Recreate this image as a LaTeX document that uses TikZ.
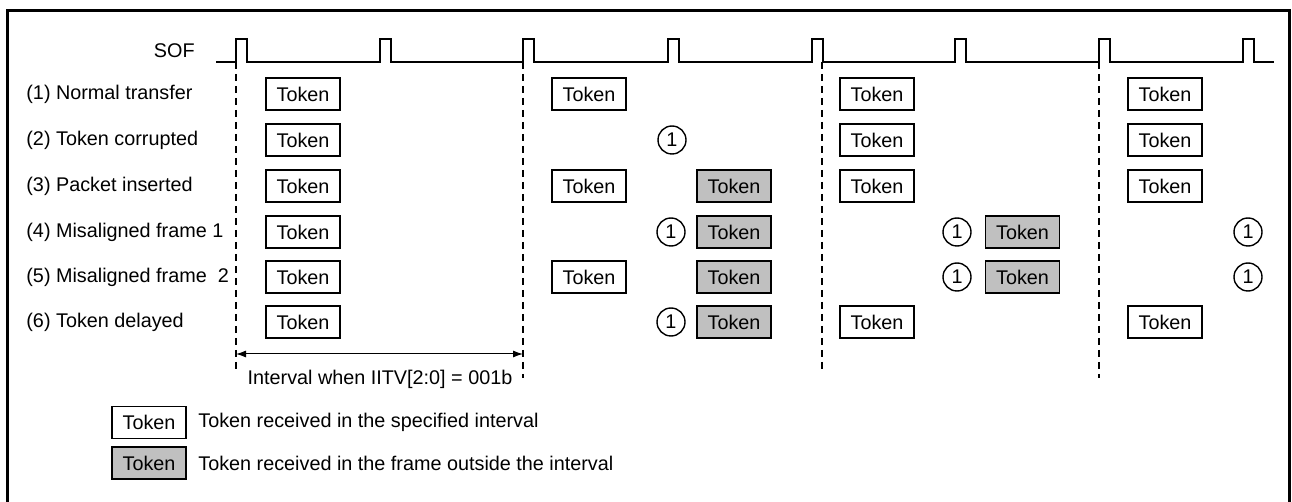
\documentclass[tikz,border=0pt]{standalone}
\usepackage{fontspec}
\setmainfont{Liberation Sans}
\usetikzlibrary{arrows.meta}
\definecolor{tokgray}{RGB}{192,192,192}
\begin{document}
\begin{tikzpicture}[x=0.5pt,y=-0.5pt,
  every node/.style={font=\fontsize{9.9pt}{12pt}\selectfont},
  tok/.style={draw, line width=0.7pt, minimum width=37pt, minimum height=16pt, inner sep=0pt},
  tokg/.style={tok, fill=tokgray},
  num/.style={draw, circle, line width=0.7pt, minimum size=14pt, inner sep=0pt},
  lbl/.style={anchor=west, inner sep=0pt},
  sig/.style={line width=0.6pt},
  interval/.style={line width=1.3pt, dash pattern=on 3.5pt off 2.5pt},
  border/.style={line width=1.5pt},
  dim/.style={line width=0.5pt, {Latex[length=5pt,width=3.5pt]}-{Latex[length=5pt,width=3.5pt]}}
]
\useasboundingbox (0,0) rectangle (1292,502);
% outer frame (bottom edge lies outside the picture)
\draw[border] (7.5,520) -- (7.5,10.5) -- (1289,10.5) -- (1289,520);

% SOF waveform
\node[anchor=east, inner sep=0pt] (sof) at (195,51) {SOF};
\draw[sig] (216,62) foreach \x in {236,380,523,668,812,955,1099,1243} { -- (\x,62) -- (\x,39) -- (\x+11,39) -- (\x+11,62) } -- (1274,62);

% interval boundaries
\coordinate (d1t) at (236,62);  \coordinate (d1b) at (236,370);
\coordinate (d2t) at (523,62);  \coordinate (d2b) at (523,378);
\coordinate (d3t) at (822,62);  \coordinate (d3b) at (822,370);
\coordinate (d4t) at (1099,62); \coordinate (d4b) at (1099,378);
\draw[interval] (d1t) -- (d1b);
\draw[interval] (d2t) -- (d2b);
\draw[interval] (d3t) -- (d3b);
\draw[interval] (d4t) -- (d4b);

\coordinate (al) at (236,354);
\coordinate (ar) at (523,354);
\draw[dim] (al) -- (ar);
\node (ilab) at (380,379) {Interval when IITV[2:0] = 001b};

% row labels
\node[lbl] (r1) at (26,94)  {(1) Normal transfer};
\node[lbl] (r2) at (26,140) {(2) Token corrupted};
\node[lbl] (r3) at (26,186) {(3) Packet inserted};
\node[lbl] (r4) at (26,232) {(4) Misaligned frame 1};
\node[lbl] (r5) at (26,277) {(5) Misaligned frame\ \ 2};
\node[lbl] (r6) at (26,322) {(6) Token delayed};

% row 1
\node[tok] (a1) at (303,94) {Token};
\node[tok] (b1) at (589,94) {Token};
\node[tok] (d1) at (877,94) {Token};
\node[tok] (f1) at (1165,94) {Token};
% row 2
\node[tok] (a2) at (303,140) {Token};
\node[num] (c2) at (672,140) {1};
\node[tok] (d2) at (877,140) {Token};
\node[tok] (f2) at (1165,140) {Token};
% row 3
\node[tok] (a3) at (303,186) {Token};
\node[tok] (b3) at (589,186) {Token};
\node[tokg] (g3) at (734,186) {Token};
\node[tok] (d3) at (877,186) {Token};
\node[tok] (f3) at (1165,186) {Token};
% row 4
\node[tok] (a4) at (303,232) {Token};
\node[num] (c4) at (671,232) {1};
\node[tokg] (g4) at (734,232) {Token};
\node[num] (e4) at (957,232) {1};
\node[tokg] (h4) at (1022.5,232) {Token};
\node[num] (k4) at (1248,232) {1};
% row 5
\node[tok] (a5) at (303,277) {Token};
\node[tok] (b5) at (589,277) {Token};
\node[tokg] (g5) at (734,277) {Token};
\node[num] (e5) at (957,277) {1};
\node[tokg] (h5) at (1022.5,277) {Token};
\node[num] (k5) at (1248,277) {1};
% row 6
\node[tok] (a6) at (303,322) {Token};
\node[num] (c6) at (671,322) {1};
\node[tokg] (g6) at (734,322) {Token};
\node[tok] (d6) at (877,322) {Token};
\node[tok] (f6) at (1165,322) {Token};

% legend
\node[tok] (lw) at (149,422.5) {Token};
\node[lbl] (lwt) at (198,422.5) {Token received in the specified interval};
\node[tokg] (lg) at (149,463) {Token};
\node[lbl] (lgt) at (198,463) {Token received in the frame outside the interval};
\end{tikzpicture}
\end{document}
